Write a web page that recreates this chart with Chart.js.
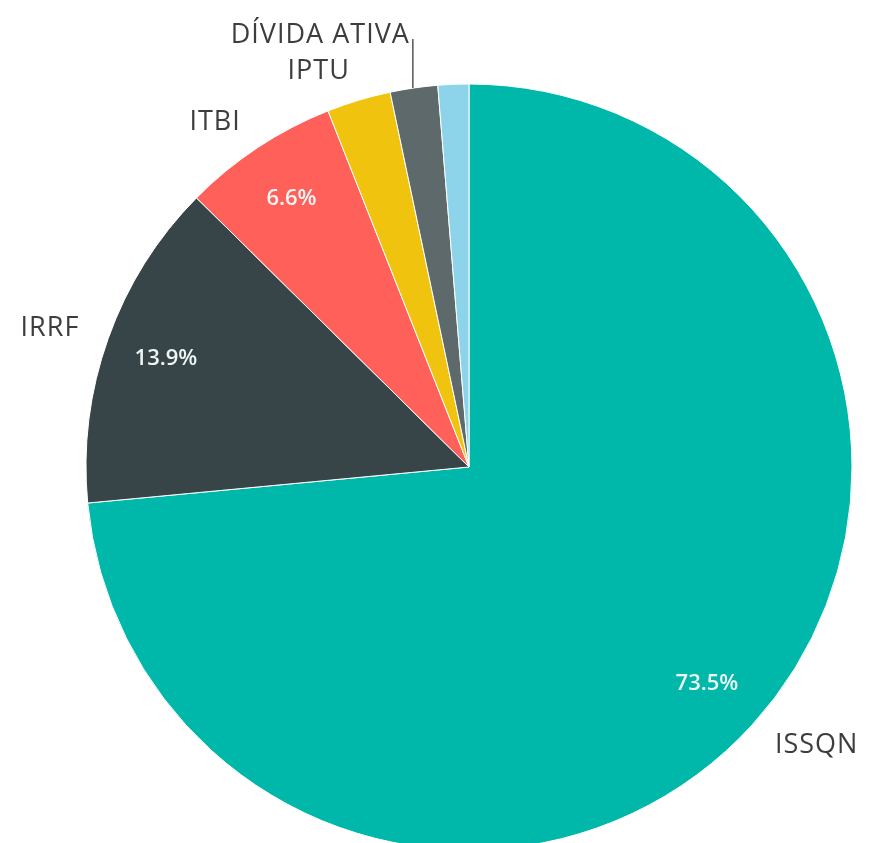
<!DOCTYPE html>
<html>
<head>
<meta charset="utf-8">
<script src="https://cdn.jsdelivr.net/npm/chart.js@4"></script>
<style>
  html, body { margin: 0; padding: 0; background: #fff; overflow: hidden; }
  #wrap { width: 870px; height: 843px; overflow: hidden; }
</style>
</head>
<body>
<div id="wrap"><canvas id="pizza" width="870" height="860"></canvas></div>
<script>
// receita por tributo (%)
const categorias = ["ISSQN", "IRRF", "ITBI", "IPTU", "DÍVIDA ATIVA", "OUTROS"];
const percentuais = [73.5, 13.9, 6.6, 2.7, 2.0, 1.3];
const cores = ["#00b8aa", "#374548", "#ff605a", "#f0c30f", "#5e696b", "#8dd3ea"];

// rótulos: nome fora da fatia, percentual dentro
const rotulosPlugin = {
    id: "rotulos",
    afterDatasetsDraw(chart) {
        const ctx = chart.ctx;
        const arcs = chart.getDatasetMeta(0).data;
        let anterior = null;
        ctx.save();
        arcs.forEach((arc, i) => {
            const v = percentuais[i];
            const mid = (arc.startAngle + arc.endAngle) / 2;
            const cx = Math.cos(mid), cy = Math.sin(mid);
            const r = arc.outerRadius;

            if (v >= 5) {
                ctx.font = "600 22px 'Open Sans'";
                ctx.fillStyle = "#eef6f5";
                ctx.textAlign = "center";
                ctx.textBaseline = "middle";
                ctx.fillText(v.toFixed(1) + "%", arc.x + cx * r * 0.84, arc.y + cy * r * 0.84);
            }

            if (v < 1.5) return;
            ctx.font = "400 27px 'Open Sans'";
            ctx.letterSpacing = "1px";
            ctx.fillStyle = "#3d3d3d";
            ctx.textBaseline = "middle";
            const w = ctx.measureText(categorias[i]).width;
            let x = arc.x + cx * r * 1.08;
            let y = arc.y + cy * r * 1.08;
            const alinhar = cx >= 0 ? "left" : "right";
            let box = alinhar === "left" ? [x, y - 13, x + w, y + 13] : [x - w, y - 13, x, y + 13];
            if (anterior && box[0] < anterior[2] && box[2] > anterior[0] && box[1] < anterior[3] && box[3] > anterior[1]) {
                // sobrepõe: sobe o rótulo e puxa uma linha guia
                const ex = arc.x + cx * r, ey = arc.y + cy * r;
                y = anterior[1] - 23;
                x = ex - 4;
                ctx.strokeStyle = "#555";
                ctx.lineWidth = 1.5;
                ctx.beginPath();
                ctx.moveTo(ex - 1, ey);
                ctx.lineTo(ex - 1, y + 4);
                ctx.stroke();
                box = [x - w, y - 13, x, y + 13];
            }
            ctx.textAlign = alinhar;
            ctx.fillText(categorias[i], x, y);
            ctx.letterSpacing = "0px";
            anterior = box;
        });
        ctx.restore();
    }
};

new Chart(document.getElementById("pizza").getContext("2d"), {
    type: "pie",
    data: {
        labels: categorias,
        datasets: [{
            data: percentuais,
            backgroundColor: cores,
            borderColor: "#ffffff",
            borderWidth: 1
        }]
    },
    options: {
        responsive: false,
        animation: false,
        radius: 383,
        layout: { padding: { left: 86, right: 18, top: 84, bottom: 10 } },
        plugins: { legend: { display: false }, tooltip: { enabled: false } }
    },
    plugins: [rotulosPlugin]
});
</script>
</body>
</html>
